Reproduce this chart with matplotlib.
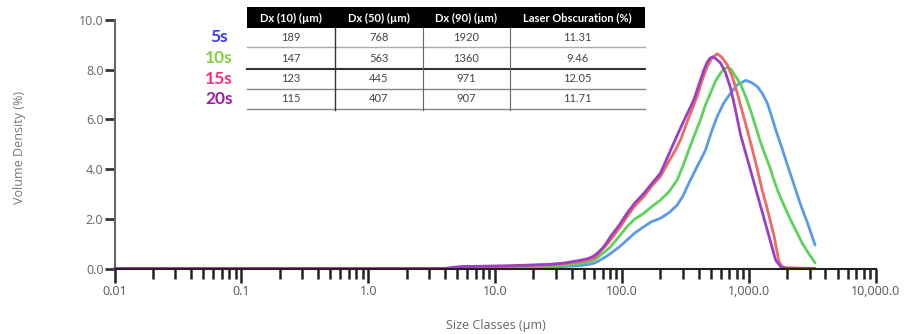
import numpy as np
import matplotlib.pyplot as plt
from matplotlib.ticker import LogLocator, NullFormatter
from matplotlib.patches import Rectangle

# particle size distributions (size in um, volume density in %)
size_5s = [0.01, 8, 19, 27, 35, 47, 54, 59.7, 64, 68, 74, 80.8, 95, 109, 125, 148, 170, 200, 235, 271,
           300, 335, 390, 454, 505, 561, 630, 715, 807, 940, 1040, 1161, 1270, 1393, 1500, 1622,
           1800, 2004, 2250, 2553, 2900, 3311]
vol_5s = [0, 0, 0.04, 0.06, 0.08, 0.12, 0.16, 0.21, 0.28, 0.36, 0.47, 0.60, 0.87, 1.14, 1.42, 1.68, 1.88, 2.02,
          2.25, 2.55, 2.90, 3.43, 4.10, 4.77, 5.50, 6.12, 6.65, 7.06, 7.39, 7.57, 7.49, 7.32, 7.05, 6.65,
          6.15, 5.58, 4.90, 4.17, 3.40, 2.55, 1.80, 0.94]

size_10s = [0.01, 6, 10, 19, 27, 35, 47, 54, 59.7, 64, 68, 74, 80.8, 95, 109, 125, 148, 170, 200,
            235, 271, 300, 335, 370, 414, 450, 497, 545, 596, 630, 673, 720, 783, 860, 940, 1030,
            1127, 1210, 1309, 1440, 1570, 1690, 1828, 2128, 2380, 2630, 2950, 3311]
vol_10s = [0, 0, 0.03, 0.08, 0.10, 0.13, 0.20, 0.26, 0.34, 0.44, 0.55, 0.70, 0.87, 1.30, 1.68, 1.98, 2.22, 2.48,
           2.75, 3.10, 3.56, 4.10, 4.77, 5.35, 5.98, 6.55, 7.06, 7.55, 7.86, 8.02, 8.10, 8.02, 7.73, 7.40,
           6.92, 6.35, 5.71, 5.20, 4.70, 4.15, 3.56, 3.10, 2.69, 1.95, 1.45, 1.01, 0.60, 0.23]

size_15s = [0.01, 4.5, 5.5, 7.6, 12, 19, 27, 35, 47, 54, 59.7, 64, 68, 74, 80.8, 95, 109, 125, 148,
            170, 200, 230, 263, 290, 325, 355, 390, 425, 468, 510, 561, 610, 673, 740, 807, 880, 968,
            1060, 1161, 1270, 1393, 1480, 1570, 1650, 1722, 1800, 1884, 3311]
vol_15s = [0, 0, 0.05, 0.06, 0.08, 0.12, 0.15, 0.19, 0.28, 0.34, 0.42, 0.54, 0.70, 0.90, 1.14, 1.62, 2.08, 2.50,
           2.89, 3.30, 3.70, 4.25, 4.77, 5.20, 5.90, 6.40, 6.92, 7.55, 8.13, 8.48, 8.64, 8.50, 8.20, 7.70,
           7.06, 6.35, 5.58, 4.80, 3.99, 3.15, 2.39, 1.85, 1.33, 0.75, 0.27, 0.10, 0.03, 0]

size_20s = [0.01, 4.0, 4.7, 5.5, 7.6, 12, 19, 27, 35, 47, 54, 59.7, 64, 70, 75, 80.8, 95, 109, 125,
            148, 170, 200, 245, 300, 367, 441, 468, 490, 512, 545, 596, 650, 715, 780, 857, 1028, 1233,
            1479, 1619, 1775, 2000, 3311]
vol_20s = [0, 0, 0.05, 0.08, 0.09, 0.11, 0.14, 0.17, 0.22, 0.33, 0.40, 0.50, 0.62, 0.82, 1.02, 1.28, 1.75, 2.22,
           2.62, 3.02, 3.40, 3.83, 4.85, 5.85, 6.79, 8.00, 8.30, 8.45, 8.51, 8.45, 8.27, 7.90, 7.26, 6.40,
           5.38, 3.94, 2.50, 1.06, 0.34, 0.07, 0.01, 0]

series_names = ['5s', '10s', '15s', '20s']
line_colors = ['#5b9be6', '#5cd35a', '#ef6a63', '#9a3fc8']
name_colors = ['#3a3aff', '#80d040', '#ff3070', '#a020a0']

# summary table
table_header = ['Dx (10) (\u00b5m)', 'Dx (50) (\u00b5m)', 'Dx (90) (\u00b5m)', 'Laser Obscuration (%)']
dx10 = ['189', '147', '123', '115']
dx50 = ['768', '563', '445', '407']
dx90 = ['1920', '1360', '971', '907']
obscuration = ['11.31', '9.46', '12.05', '11.71']

xtick_vals = [0.01, 0.1, 1, 10, 100, 1000, 10000]
xtick_labels = ['0.01', '0.1', '1.0', '10.0', '100.0', '1,000.0', '10,000.0']
ytick_vals = [0, 2, 4, 6, 8, 10]
ytick_labels = ['0.0', '2.0', '4.0', '6.0', '8.0', '10.0']

W, H = 906, 334
fig = plt.figure(figsize=(W / 100, H / 100), dpi=100)
ax = fig.add_axes([114.5 / W, 1 - 268.5 / H, (876 - 114.5) / W, (268.5 - 20) / H])

sizes = [size_5s, size_10s, size_15s, size_20s]
vols = [vol_5s, vol_10s, vol_15s, vol_20s]
for s, v, c in zip(sizes, vols, line_colors):
    ax.plot(s, v, color=c, lw=2, solid_capstyle='round', solid_joinstyle='round', clip_on=False)

ax.set_xscale('log')
ax.set_xlim(0.01, 10000)
ax.set_ylim(0, 10)
ax.set_xticks(xtick_vals)
ax.set_xticklabels(xtick_labels)
ax.xaxis.set_minor_locator(LogLocator(base=10, subs=np.arange(2, 10)))
ax.xaxis.set_minor_formatter(NullFormatter())
ax.set_yticks(ytick_vals)
ax.set_yticklabels(ytick_labels)

for side in ['top', 'right']:
    ax.spines[side].set_visible(False)
ax.spines['left'].set_color('#666666')
ax.spines['left'].set_linewidth(1.5)
ax.spines['bottom'].set_color('#222222')
ax.spines['bottom'].set_linewidth(1.5)

ax.tick_params(axis='x', which='major', direction='out', length=10, width=1.8, color='#222222',
               labelsize=9, labelcolor='#555555', pad=2)
ax.tick_params(axis='x', which='minor', direction='out', length=7, width=1.8, color='#222222')
ax.tick_params(axis='y', which='major', direction='out', length=7, width=2, color='#333333',
               labelsize=9, labelcolor='#666666', pad=1)
for lab in ax.get_xticklabels() + ax.get_yticklabels():
    lab.set_family('Open Sans')

fig.text(20 / W, 1 - 148 / H, 'Volume Density (%)', rotation=90, ha='center', va='center',
         fontsize=9, color='#777777', family='Open Sans')
fig.text(496 / W, 1 - 325 / H, 'Size Classes (\u00b5m)', ha='center', va='center',
         fontsize=9, color='#666666', family='Open Sans')

# table drawn in pixel coordinates on an overlay
tb = fig.add_axes([0, 0, 1, 1], facecolor='none')
tb.set_xlim(0, W)
tb.set_ylim(H, 0)
tb.axis('off')

col_edges = [247, 335, 422.5, 510, 645]
header_top, header_bot = 7, 28
row_lines = [47, 68.5, 88.5, 108.5]
row_centers = [37.5, 58, 78.5, 98.5]

tb.add_patch(Rectangle((col_edges[0], header_top), col_edges[-1] - col_edges[0],
                       header_bot - header_top, color='black', lw=0))
for i, txt in enumerate(table_header):
    tb.text((col_edges[i] + col_edges[i + 1]) / 2, (header_top + header_bot) / 2 + 0.5, txt,
            ha='center', va='center', color='white', fontsize=8, weight='bold', family='Lato')

line_styles = [('#aaaaaa', 1.0), ('#333333', 1.5), ('#888888', 1.0), ('#888888', 1.0)]
for y, (c, lw) in zip(row_lines, line_styles):
    tb.plot([col_edges[0], col_edges[-1]], [y, y], color=c, lw=lw)
tb.plot([col_edges[1], col_edges[1]], [header_bot, 110], color='#333333', lw=1.0)
for x in col_edges[2:4]:
    tb.plot([x, x], [header_bot, 110], color='#666666', lw=0.8)

columns = [dx10, dx50, dx90, obscuration]
for r, yc in enumerate(row_centers):
    for i, col in enumerate(columns):
        tb.text((col_edges[i] + col_edges[i + 1]) / 2, yc, col[r], ha='center', va='center',
                color='#444444', fontsize=8, family='Lato')
    tb.text(219, yc, series_names[r], ha='center', va='center', color=name_colors[r],
            fontsize=12.5, weight='bold', family='Lato')

fig.savefig('out.png', dpi=100)
